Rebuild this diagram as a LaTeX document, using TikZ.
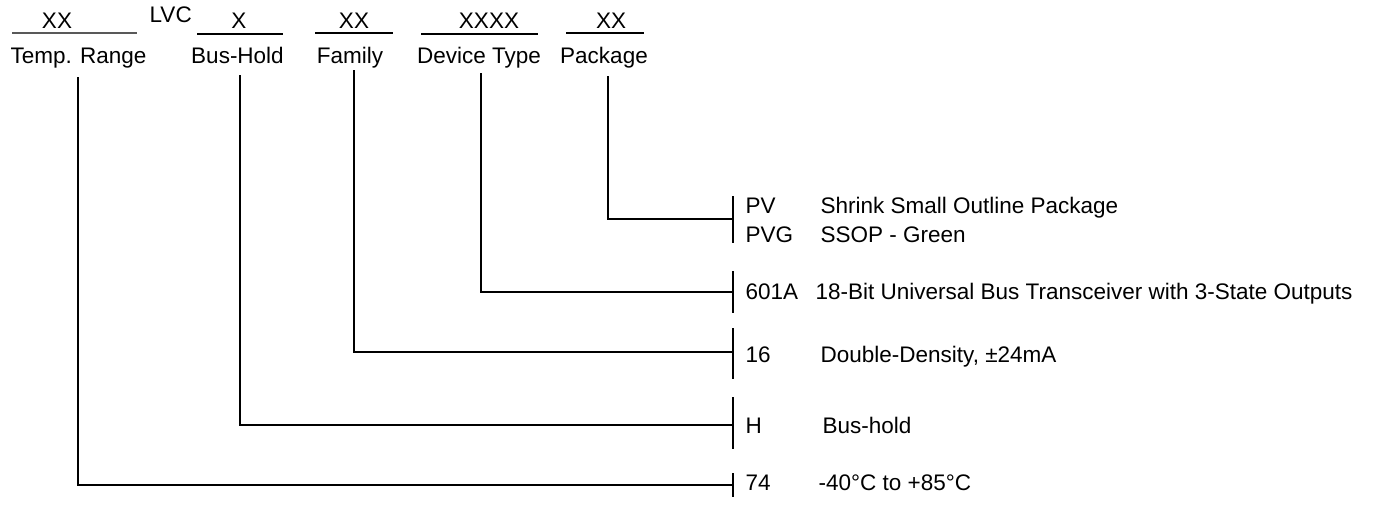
\documentclass[tikz,border=0pt]{standalone}
\usepackage{fontspec}
\setmainfont{Liberation Sans}
\begin{document}
\begin{tikzpicture}[x=1pt,y=-1pt,line width=1.3pt,
  txt/.style={inner sep=0pt,font=\fontsize{22.5}{26}\selectfont},
  lab/.style={txt,anchor=base},
  code/.style={txt,anchor=base west},
  conn/.style={line width=1.3pt},
  bar/.style={line width=1.3pt},
  uline/.style={line width=1.3pt}]
\useasboundingbox (0,0) rectangle (1376,506);
% top fields
\node[lab] (xxT) at (57,28) {XX};
\node[code] (lvc) at (149,22) {LVC};
\node[lab] (xB) at (239,28) {X};
\node[lab] (xxF) at (354,28) {XX};
\node[lab] (xxD) at (489,28) {XXXX};
\node[lab] (xxP) at (611,28) {XX};
\draw[uline,gray!70!black] (12,33) -- (137,33);
\draw[uline] (197,34) -- (283,34);
\draw[uline] (315,33) -- (393,33);
\draw[uline,line width=2pt] (421,34) -- (538,34);
\draw[uline] (566,33) -- (644,33);
\node[lab] (tTemp) at (78.5,63) {Temp. Range};
\node[lab] (tBus) at (237.5,63) {Bus-Hold};
\node[lab] (tFam) at (350,63) {Family};
\node[lab] (tDev) at (479,63) {Device Type};
\node[lab] (tPkg) at (604,63) {Package};
% drop starts
\coordinate (sTemp) at (78,77);
\coordinate (sBus) at (239.5,75);
\coordinate (sFam) at (354,70);
\coordinate (sDev) at (481,73);
\coordinate (sPkg) at (608,76);
% bar joints
\coordinate (jPkg) at (733,219);
\coordinate (jDev) at (733,292);
\coordinate (jFam) at (733,352);
\coordinate (jBus) at (733,425);
\coordinate (jTemp) at (733,485);
% bars
\draw[bar] (733,196) -- (733,243);
\draw[bar] (733,271) -- (733,313);
\draw[bar] (733,328) -- (733,379);
\draw[bar,line width=2pt] (733,397) -- (733,449);
\draw[bar] (733,473) -- (733,497);
% connectors
\draw[conn] (sPkg) |- (jPkg);
\draw[conn] (sDev) |- (jDev);
\draw[conn] (sFam) |- (jFam);
\draw[conn,line width=2pt] (sBus) -- (sBus |- jBus) -- (jBus);
\draw[conn] (sTemp) |- (jTemp);
% right texts
\node[code] (cPV) at (745,213) {PV};
\node[code] (dPV) at (820,213) {Shrink Small Outline Package};
\node[code] (cPVG) at (745,242) {PVG};
\node[code] (dPVG) at (820,242) {SSOP - Green};
\node[code] (cDev) at (745,299) {601A};
\node[code] (dDev) at (815,299) {18-Bit Universal Bus Transceiver with 3-State Outputs};
\node[code] (cFam) at (745,362) {16};
\node[code] (dFam) at (820,362) {Double-Density, ±24mA};
\node[code] (cBus) at (745,433) {H};
\node[code] (dBus) at (822,433) {Bus-hold};
\node[code] (cTemp) at (745,490) {74};
\node[code] (dTemp) at (818,490) {-40°C to +85°C};
\end{tikzpicture}
\end{document}
